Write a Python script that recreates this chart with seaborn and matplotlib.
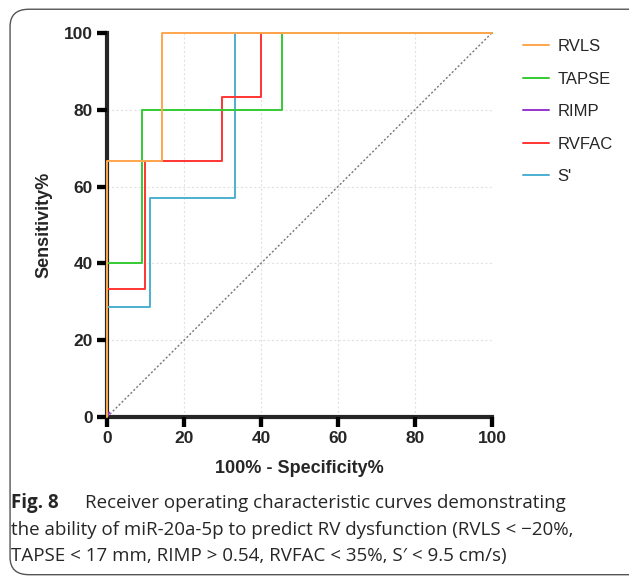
import matplotlib
matplotlib.use("Agg")
import matplotlib.pyplot as plt
import seaborn as sns
import pandas as pd
from matplotlib.patches import FancyBboxPatch
from matplotlib.lines import Line2D

# ROC curve points (100% - Specificity%, Sensitivity%)
rvls_x = [0, 0, 14.3, 14.3, 100]
rvls_y = [0, 66.7, 66.7, 100, 100]
tapse_x = [0, 0, 9.1, 9.1, 45.5, 45.5, 100]
tapse_y = [0, 40, 40, 80, 80, 100, 100]
rimp_x = [0, 0.6]
rimp_y = [0, 1.2]
rvfac_x = [0, 0, 10, 10, 30, 30, 40, 40, 100]
rvfac_y = [0, 33.3, 33.3, 66.7, 66.7, 83.3, 83.3, 100, 100]
s_x = [0, 0, 11.1, 11.1, 33.3, 33.3, 100]
s_y = [0, 28.6, 28.6, 57.1, 57.1, 100, 100]

series = ["RVLS", "TAPSE", "RIMP", "RVFAC", "S'"]
colors = ["#FFA64D", "#33CC33", "#9933CC", "#FF3333", "#4DAFCF"]
xs = [rvls_x, tapse_x, rimp_x, rvfac_x, s_x]
ys = [rvls_y, tapse_y, rimp_y, rvfac_y, s_y]

ref_x = [0, 100]
ref_y = [0, 100]

xticks = [0, 20, 40, 60, 80, 100]
yticks = [0, 20, 40, 60, 80, 100]

caption1 = "Receiver operating characteristic curves demonstrating"
caption2 = "the ability of miR-20a-5p to predict RV dysfunction (RVLS < \u221220%,"
caption3 = "TAPSE < 17 mm, RIMP > 0.54, RVFAC < 35%, S\u2032 < 9.5 cm/s)"

sns.set_style("ticks")
plt.rcParams['font.family'] = ['Liberation Sans', 'DejaVu Sans']

fig = plt.figure(figsize=(6.29, 5.77), dpi=100)
ax = fig.add_axes([0.170, 0.277, 0.612, 0.666])

sns.lineplot(x=ref_x, y=ref_y, ax=ax, color="#777777", lw=1.0,
             linestyle=(0, (1.5, 1.5)), zorder=1)

draw_order = [4, 3, 1, 2, 0]
for i in draw_order:
    df = pd.DataFrame({"x": xs[i], "y": ys[i]})
    sns.lineplot(data=df, x="x", y="y", ax=ax, sort=False, estimator=None,
                 color=colors[i], lw=1.4, zorder=3 + (5 - i))
    ax.lines[-1].set_clip_on(False)

ax.set_xlim(0, 100)
ax.set_ylim(0, 100)
ax.set_xticks(xticks)
ax.set_yticks(yticks)
ax.set_xticklabels([str(t) for t in xticks], fontsize=12.5, fontweight="bold")
ax.set_yticklabels([str(t) for t in yticks], fontsize=12.5, fontweight="bold")

# light dotted grid
for v in [20, 40, 60, 80]:
    ax.axvline(v, color="#E2E2E2", lw=0.8, ls=(0, (2, 2)), zorder=0)
    ax.axhline(v, color="#E2E2E2", lw=0.8, ls=(0, (2, 2)), zorder=0)

ax.spines["top"].set_visible(False)
ax.spines["right"].set_visible(False)
ax.spines["left"].set_linewidth(3)
ax.spines["bottom"].set_linewidth(3)
ax.set_xlabel("100% - Specificity%", fontsize=13, fontweight="bold", labelpad=10)
ax.set_ylabel("Sensitivity%", fontsize=13, fontweight="bold", labelpad=8)
ax.xaxis.set_ticks_position("bottom")
ax.yaxis.set_ticks_position("left")
ax.tick_params(axis="both", length=7, width=3, color="black", pad=3)

# explicit outward tick marks at the tick positions (axis decoration)
xtr = ax.get_xaxis_transform()
ytr = ax.get_yaxis_transform()
for t in xticks:
    ax.add_line(Line2D([t, t], [0, -0.025], transform=xtr, color="black", lw=3,
                       solid_capstyle="butt", clip_on=False, zorder=6))
for t in yticks:
    ax.add_line(Line2D([0, -0.025], [t, t], transform=ytr, color="black", lw=3,
                       solid_capstyle="butt", clip_on=False, zorder=6))

# legend
handles = [Line2D([0], [0], color=c, lw=1.4) for c in colors]
fig.legend(handles, series, loc="upper left", bbox_to_anchor=(0.807, 0.958),
           frameon=False, fontsize=12, handlelength=1.6, handletextpad=0.5,
           labelspacing=1.05)

# rounded border
box = FancyBboxPatch((0.016, 0.004), 1.2, 0.98, boxstyle="round,pad=0,rounding_size=0.03",
                     transform=fig.transFigure, fill=False, ec="#555555", lw=1.0)
fig.patches.append(box)

# caption
cap_font = ['Open Sans', 'DejaVu Sans']
cap_size = 13.5
fig.text(0.017, 0.128, "Fig. 8", fontsize=cap_size, fontweight="bold", family=cap_font, va="center")
fig.text(0.135, 0.128, caption1, fontsize=cap_size, family=cap_font, va="center")
fig.text(0.017, 0.082, caption2, fontsize=cap_size, family=cap_font, va="center")
fig.text(0.017, 0.036, caption3, fontsize=cap_size, family=cap_font, va="center")

fig.savefig("out.png", dpi=100)
